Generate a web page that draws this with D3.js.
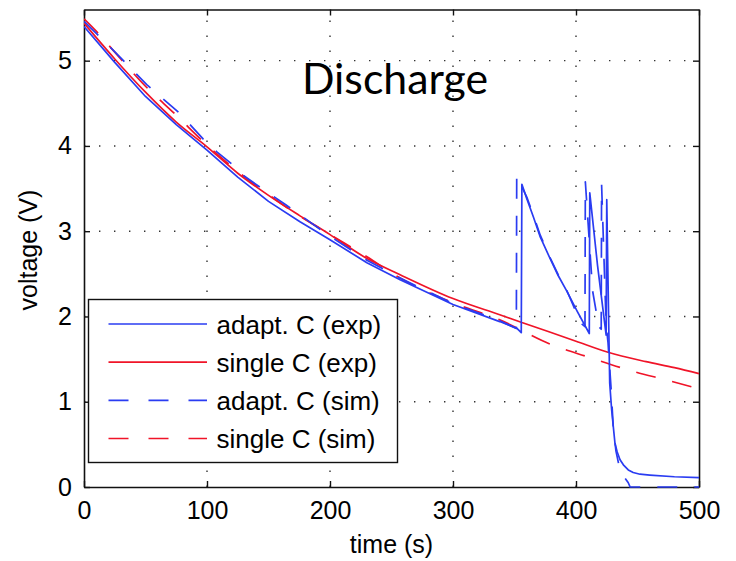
<!DOCTYPE html>
<html>
<head>
<meta charset="utf-8">
<script src="https://cdn.jsdelivr.net/npm/d3@7"></script>
<style>
  html, body { margin: 0; padding: 0; background: #fff; }
  svg { display: block; }
</style>
</head>
<body>
<svg id="chart" width="736" height="561"></svg>
<script>
// ---- data ----
const xTicks = [0, 100, 200, 300, 400, 500];
const yTicks = [0, 1, 2, 3, 4, 5];
const legendLabels = ["adapt. C (exp)", "single C (exp)", "adapt. C (sim)", "single C (sim)"];

const adaptExpT = [0, 25, 50, 75, 100, 125, 150, 175.6, 200, 230, 257, 300, 338, 352, 355.5, 356, 360, 365.3, 371, 378.9, 385.5, 392.4, 401, 410.8, 411.2, 417.5, 424.5, 425, 426.5, 427.4, 429, 431.7, 433.5, 435.8, 438.5, 442.5, 446.5, 452, 460, 480, 500];
const adaptExpV = [5.40, 4.98, 4.58, 4.25, 3.95, 3.635, 3.35, 3.11, 2.90, 2.63, 2.43, 2.14, 1.94, 1.86, 1.81, 3.55, 3.38, 3.17, 2.93, 2.68, 2.48, 2.30, 2.06, 1.80, 3.45, 2.60, 1.78, 3.37, 2.00, 1.22, 0.90, 0.51, 0.41, 0.32, 0.26, 0.20, 0.17, 0.15, 0.14, 0.12, 0.11];

const singleExpT = [0, 25, 50, 75, 100, 125, 150, 175.6, 200, 230, 257, 300, 338, 356, 400, 426, 457, 480, 500];
const singleExpV = [5.44, 5.02, 4.63, 4.28, 3.99, 3.68, 3.42, 3.18, 2.96, 2.68, 2.49, 2.21, 2.02, 1.93, 1.71, 1.58, 1.47, 1.40, 1.33];

const adaptSimT = [0, 18.5, 51, 78, 97, 108, 120, 127, 143.7, 164, 200, 230, 257, 300, 338, 351.5, 351.8, 360, 365.3, 371, 378.9, 385.5, 392.4, 404, 407.3, 407.6, 413.5, 418.5, 420.5, 420.8, 424.5, 426, 428.5, 430.3, 432.5, 435, 438.5, 442.5, 444, 500];
const adaptSimV = [5.46, 5.20, 4.72, 4.38, 4.08, 3.93, 3.79, 3.68, 3.51, 3.31, 2.94, 2.66, 2.45, 2.15, 1.95, 1.86, 3.65, 3.40, 3.19, 2.95, 2.69, 2.49, 2.31, 1.92, 1.88, 3.58, 2.30, 1.88, 1.85, 3.55, 1.90, 1.70, 1.16, 0.70, 0.42, 0.25, 0.13, 0.05, 0, 0];

const singleSimT = [0, 10.3, 25, 50, 75, 100, 125, 150, 175, 200, 230, 257, 300, 338, 380, 408.7, 448, 475, 500];
const singleSimV = [5.49, 5.34, 5.10, 4.70, 4.36, 4.01, 3.70, 3.43, 3.18, 2.96, 2.70, 2.45, 2.16, 1.96, 1.67, 1.53, 1.35, 1.25, 1.15];

// ---- layout ----
const svg = d3.select("#chart");
const mLeft = 84, mRight = 699, mTop = 9.5, mBottom = 487;
const x = d3.scaleLinear().domain([0, 500]).range([mLeft, mRight]);
const y = d3.scaleLinear().domain([0, 5.6]).range([mBottom, mTop]);

const BLUE = "#2a3cf2", RED = "#f01428";
const FONT = "'Liberation Sans', Arial, sans-serif";

// grid (dotted)
const grid = svg.append("g");
grid.selectAll("line.gx").data(xTicks.slice(1, -1)).join("line")
  .attr("x1", d => x(d)).attr("x2", d => x(d)).attr("y1", mBottom).attr("y2", mTop)
  .attr("stroke", "#333").attr("stroke-width", 1.4).attr("stroke-dasharray", "1.4,13.6");
grid.selectAll("line.gy").data(yTicks.slice(1)).join("line")
  .attr("x1", mLeft).attr("x2", mRight).attr("y1", d => y(d)).attr("y2", d => y(d))
  .attr("stroke", "#333").attr("stroke-width", 1.4).attr("stroke-dasharray", "1.4,13.6");

// axes (ticks inward, box)
const fmt = d3.format("d");
const axB = d3.axisBottom(x).tickValues(xTicks).tickFormat(fmt).tickSizeInner(-6).tickSizeOuter(0).tickPadding(14);
const axL = d3.axisLeft(y).tickValues(yTicks).tickFormat(fmt).tickSizeInner(-6).tickSizeOuter(0).tickPadding(12);
const axT = d3.axisTop(x).tickValues(xTicks).tickSizeInner(-6).tickSizeOuter(0).tickFormat("");
const axR = d3.axisRight(y).tickValues(yTicks).tickSizeInner(-6).tickSizeOuter(0).tickFormat("");

function styleAxis(g) {
  g.select(".domain").attr("stroke", "#111").attr("stroke-width", 1.6);
  g.selectAll(".tick line").attr("stroke", "#111").attr("stroke-width", 1.4);
  g.selectAll(".tick text").attr("fill", "#000").style("font-family", FONT).style("font-size", "25px");
}
svg.append("g").attr("transform", `translate(0,${mBottom})`).call(axB).call(styleAxis);
svg.append("g").attr("transform", `translate(${mLeft},0)`).call(axL).call(styleAxis);
svg.append("g").attr("transform", `translate(0,${mTop})`).call(axT).call(styleAxis);
svg.append("g").attr("transform", `translate(${mRight},0)`).call(axR).call(styleAxis);

// clip
svg.append("clipPath").attr("id", "clip").append("rect")
  .attr("x", mLeft).attr("y", mTop - 1).attr("width", mRight - mLeft + 1).attr("height", mBottom - mTop + 2);

const smooth = d3.line().x(d => x(d[0])).y(d => y(d[1])).curve(d3.curveMonotoneX);
const straight = d3.line().x(d => x(d[0])).y(d => y(d[1])).curve(d3.curveLinear);
const zip = (t, v) => t.map((d, i) => [d, v[i]]);

const series = [
  { data: zip(singleSimT, singleSimV), color: RED, dash: "20,17", gen: smooth },
  { data: zip(singleExpT, singleExpV), color: RED, dash: null, gen: smooth },
  { data: zip(adaptExpT, adaptExpV), color: BLUE, dash: null, gen: straight },
  { data: zip(adaptSimT, adaptSimV), color: BLUE, dash: "20,17", gen: straight }
];
const plot = svg.append("g").attr("clip-path", "url(#clip)");
series.forEach(s => {
  plot.append("path").datum(s.data)
    .attr("d", s.gen)
    .attr("fill", "none")
    .attr("stroke", s.color)
    .attr("stroke-width", 1.7)
    .attr("stroke-linejoin", "round")
    .attr("stroke-dasharray", s.dash);
});

// axis labels
svg.append("text").attr("x", (mLeft + mRight) / 2).attr("y", 553)
  .attr("text-anchor", "middle").style("font-family", FONT).style("font-size", "25px")
  .text("time (s)");
svg.append("text").attr("transform", "translate(37,250) rotate(-90)")
  .attr("text-anchor", "middle").style("font-family", FONT).style("font-size", "25px")
  .text("voltage (V)");

// title annotation
svg.append("text").attr("x", 302).attr("y", 93.5)
  .style("font-family", "Lato, 'Open Sans', sans-serif").style("font-size", "42px")
  .attr("textLength", 186).attr("lengthAdjust", "spacingAndGlyphs")
  .text("Discharge");

// legend
const lg = svg.append("g");
lg.append("rect").attr("x", 88.5).attr("y", 299.5).attr("width", 309).attr("height", 163)
  .attr("fill", "#fff").attr("stroke", "#111").attr("stroke-width", 1.4);
const legendStyles = [
  { color: BLUE, dash: null },
  { color: RED, dash: null },
  { color: BLUE, dash: "20,20" },
  { color: RED, dash: "20,20" }
];
const rowY = d3.scaleLinear().domain([0, 3]).range([324, 438.5]);
legendLabels.forEach((lab, i) => {
  lg.append("line").attr("x1", 108.5).attr("x2", 207).attr("y1", rowY(i)).attr("y2", rowY(i))
    .attr("stroke", legendStyles[i].color).attr("stroke-width", 1.7)
    .attr("stroke-dasharray", legendStyles[i].dash);
  lg.append("text").attr("x", 216.5).attr("y", rowY(i) + 9.5)
    .style("font-family", FONT).style("font-size", "26px").text(lab);
});
</script>
</body>
</html>
